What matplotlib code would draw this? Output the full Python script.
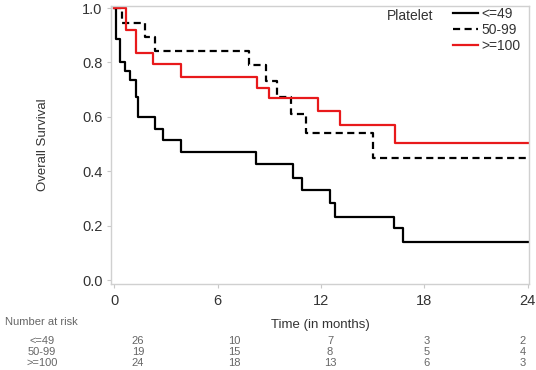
import numpy as np
import matplotlib.pyplot as plt

plt.rcParams['font.family'] = ['Liberation Sans', 'DejaVu Sans']

# survival step data
t_low = [0, 0.12, 0.35, 0.64, 0.88, 1.27, 1.37, 2.37, 2.85, 3.87, 8.2, 10.4, 10.9, 12.55, 12.83, 16.26, 16.74, 24]
s_low = [1.0, 0.885, 0.80, 0.77, 0.735, 0.674, 0.60, 0.557, 0.515, 0.472, 0.426, 0.377, 0.33, 0.284, 0.233, 0.19, 0.141, 0.141]

t_mid = [0, 0.44, 1.75, 2.37, 7.82, 8.79, 9.46, 10.23, 11.15, 15.0, 24]
s_mid = [1.0, 0.947, 0.895, 0.842, 0.789, 0.732, 0.672, 0.61, 0.54, 0.45, 0.45]

t_high = [0, 0.69, 1.27, 2.24, 3.87, 8.3, 8.98, 11.85, 13.1, 16.3, 24]
s_high = [1.0, 0.92, 0.836, 0.793, 0.748, 0.708, 0.668, 0.62, 0.57, 0.505, 0.505]

groups = ['<=49', '50-99', '>=100']
risk_times = [0, 6, 12, 18, 24]
risk_low = [26, 10, 7, 3, 2]
risk_mid = [19, 15, 8, 5, 4]
risk_high = [24, 18, 13, 6, 3]

W, H = 536, 370
fig = plt.figure(figsize=(W / 100, H / 100), dpi=100)
ax = fig.add_axes([0.207, 0.232, 0.780, 0.752])

ax.step(t_low, s_low, where='post', color='black', lw=1.6, label=groups[0])
ax.step(t_mid, s_mid, where='post', color='black', lw=1.6, dashes=(3.2, 2.0), label=groups[1])
ax.step(t_high, s_high, where='post', color='#e8191b', lw=1.6, label=groups[2])

ax.set_xlim(-0.2, 24.08)
ax.set_ylim(-0.015, 1.008)
ax.set_xticks(risk_times)
ax.set_yticks([0.0, 0.2, 0.4, 0.6, 0.8, 1.0])
ax.set_yticklabels(['0.0', '0.2', '0.4', '0.6', '0.8', '1.0'])
for sp in ax.spines.values():
    sp.set_color('#d0d0d0')
    sp.set_linewidth(1.0)
ax.tick_params(colors='#c8c8c8', labelcolor='#333333', labelsize=10.5, length=3, width=0.8)
ax.tick_params(axis='x', pad=4)
ax.tick_params(axis='y', pad=3)

ax.set_ylabel('Overall Survival', fontsize=9.5, color='#333333', labelpad=24)
ax.set_xlabel('Time (in months)', fontsize=9.5, color='#333333', labelpad=8)

leg = ax.legend(loc='upper left', bbox_to_anchor=(0.818, 0.995), frameon=False, fontsize=10,
                handlelength=1.8, handletextpad=0.25, labelspacing=0.12, borderpad=0,
                borderaxespad=0)
for txt in leg.get_texts():
    txt.set_color('#333333')
ax.text(0.66, 0.965, 'Platelet', transform=ax.transAxes, fontsize=10, color='#333333',
        ha='left', va='center')

# number at risk table
tc = '#666666'
fig.text(5 / W, 1 - 322 / H, 'Number at risk', fontsize=8, color=tc, va='center')
rows = [risk_low, risk_mid, risk_high]
row_y = [341, 352, 363]
col_x = [138, 234, 330, 427, 523]
for name, vals, yp in zip(groups, rows, row_y):
    fig.text(42 / W, 1 - yp / H, name, fontsize=8, color=tc, ha='center', va='center')
    for xp, v in zip(col_x, vals):
        fig.text(xp / W, 1 - yp / H, str(v), fontsize=8, color=tc, ha='center', va='center')

fig.savefig('out.png', dpi=100)
